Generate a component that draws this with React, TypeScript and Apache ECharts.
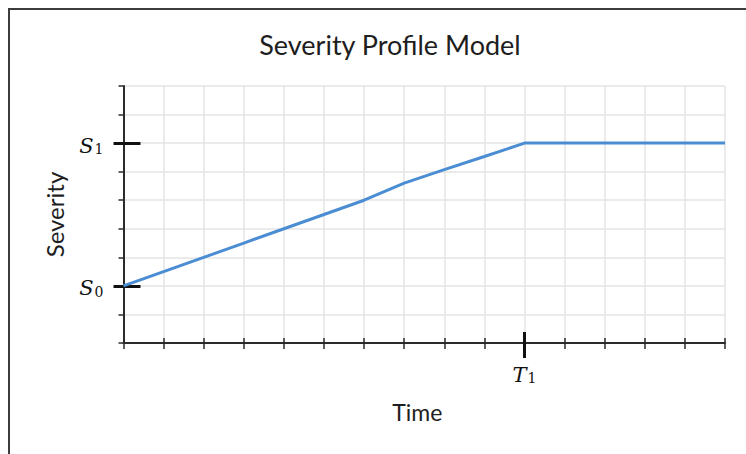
import React, { useEffect, useRef } from "react";
import * as echarts from "echarts";

const title = "Severity Profile Model";
const xName = "Time";
const yName = "Severity";
const timeValues = [0, 1, 2, 3, 4, 5, 6, 7, 8, 9, 10, 11, 12, 13, 14, 15];
const severityValues = [2, 2.5, 3, 3.5, 4, 4.5, 5, 5.6, 6.07, 6.53, 7, 7, 7, 7, 7, 7];
const xTickValues = [10];
const xTickLabels = ["T|1"];
const yTickValues = [2, 7];
const yTickLabels = ["S|0", "S|1"];

const AXIS = "#2b2b2b";
const GRID = "#e4e4e4";
const LINE = "#4a8dd3";

const rich = {
  m: { fontFamily: "DejaVu Serif", fontStyle: "italic", fontSize: 21, color: "#111", verticalAlign: "bottom", lineHeight: 26 },
  sub: { fontFamily: "DejaVu Serif", fontSize: 14, color: "#111", verticalAlign: "bottom", lineHeight: 6, padding: [0, 0, 0, 1] },
};

function fmt(values: number[], labels: string[]) {
  return (v: number) => {
    const i = values.indexOf(v);
    if (i < 0) return "";
    const [a, b] = labels[i].split("|");
    return `{m|${a}}{sub|${b}}`;
  };
}

export default function App() {
  const ref = useRef<HTMLDivElement>(null);
  useEffect(() => {
    if (!ref.current) return;
    const chart = echarts.init(ref.current, null, { renderer: "svg" });
    const xBase = { type: "value", min: 0, max: 15, interval: 1, position: "bottom", gridIndex: 0 };
    const yBase = { type: "value", min: 0, max: 9, interval: 1, position: "left", gridIndex: 0 };
    const off = { show: false };
    chart.setOption({
      animation: false,
      backgroundColor: "#ffffff",
      title: {
        text: title,
        left: 385,
        top: 26,
        textAlign: "center",
        textStyle: { fontFamily: "Lato", fontWeight: "normal", fontSize: 27, color: "#1e1e1e" },
      },
      graphic: [
        {
          type: "rect",
          shape: { x: 9, y: 9, width: 800, height: 500 },
          style: { fill: "none", stroke: "#3c3c3c", lineWidth: 2 },
          z: 100,
        },
      ],
      grid: { left: 123.5, right: 21, top: 86, bottom: 111, containLabel: false },
      xAxis: [
        {
          ...xBase,
          name: xName,
          nameLocation: "middle",
          nameGap: 57,
          nameTextStyle: { fontFamily: "Lato", fontSize: 23, color: "#1e1e1e", padding: [0, 14, 0, 0] },
          axisLine: { show: true, onZero: false, lineStyle: { color: AXIS, width: 2 } },
          axisTick: { show: true, inside: false, length: 6, lineStyle: { color: AXIS, width: 1.5 } },
          axisLabel: { show: true, customValues: xTickValues, margin: 16, fontSize: 21, formatter: fmt(xTickValues, xTickLabels), rich },
          splitLine: { show: true, lineStyle: { color: GRID, width: 1.5 } },
        },
        {
          ...xBase,
          axisLine: { show: false },
          axisTick: { show: true, inside: true, length: 5, lineStyle: { color: AXIS, width: 1.5 } },
          axisLabel: off,
          splitLine: off,
        },
        {
          ...xBase,
          axisLine: { show: false },
          axisTick: { show: true, inside: false, length: 15, customValues: xTickValues, lineStyle: { color: "#111", width: 3 } },
          axisLabel: off,
          splitLine: off,
        },
        {
          ...xBase,
          axisLine: { show: false },
          axisTick: { show: true, inside: true, length: 11, customValues: xTickValues, lineStyle: { color: "#111", width: 3 } },
          axisLabel: off,
          splitLine: off,
        },
      ],
      yAxis: [
        {
          ...yBase,
          name: yName,
          nameLocation: "middle",
          nameGap: 57,
          nameTextStyle: { fontFamily: "Lato", fontSize: 24, color: "#1e1e1e" },
          axisLine: { show: true, onZero: false, lineStyle: { color: AXIS, width: 2 } },
          axisTick: { show: true, inside: false, length: 5, lineStyle: { color: AXIS, width: 1.5 } },
          axisLabel: { show: true, customValues: yTickValues, margin: 20, fontSize: 21, formatter: fmt(yTickValues, yTickLabels), rich },
          splitLine: { show: true, lineStyle: { color: GRID, width: 1.5 } },
        },
        {
          ...yBase,
          axisLine: { show: false },
          axisTick: { show: true, inside: false, length: 10, customValues: yTickValues, lineStyle: { color: "#111", width: 3 } },
          axisLabel: off,
          splitLine: off,
        },
        {
          ...yBase,
          axisLine: { show: false },
          axisTick: { show: true, inside: true, length: 17, customValues: yTickValues, lineStyle: { color: "#111", width: 3 } },
          axisLabel: off,
          splitLine: off,
        },
      ],
      series: [
        {
          type: "line",
          xAxisIndex: 0,
          yAxisIndex: 0,
          data: timeValues.map((t, i) => [t, severityValues[i]]),
          symbol: "none",
          lineStyle: { color: LINE, width: 3 },
          z: 3,
        },
      ],
    });
    return () => chart.dispose();
  }, []);
  return (
    <div
      ref={ref}
      style={{ position: "absolute", left: 0, top: 0, width: 746, height: 454, background: "#fff" }}
    />
  );
}
